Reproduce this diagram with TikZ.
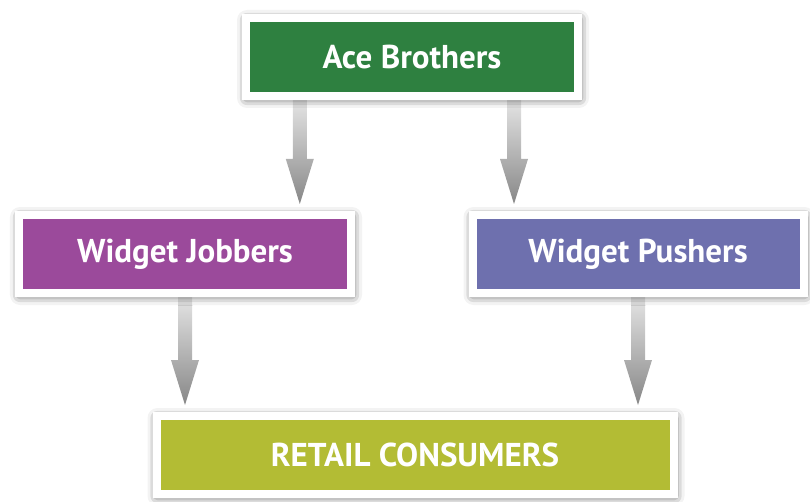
\documentclass[tikz,border=0pt]{standalone}
\usepackage{fontspec}
\setmainfont{PT Sans}
\usetikzlibrary{calc,shadows.blur}
\pgfdeclarelayer{background}
\pgfsetlayers{background,main}

\definecolor{acegreen}{RGB}{46,128,64}
\definecolor{jobberpurple}{RGB}{155,74,155}
\definecolor{pusherblue}{RGB}{110,112,174}
\definecolor{retailolive}{RGB}{179,188,52}
\definecolor{arrowtop}{RGB}{228,228,228}
\definecolor{arrowbottom}{RGB}{135,135,135}

% fat grey arrow from one anchor straight down to just above another
\newcommand{\flowarrow}[2]{%
  \path[shade, top color=arrowtop, bottom color=arrowbottom]
    let \p1=(#1), \p2=(#2) in
    (\x1-7pt,\y1) -- (\x1+7pt,\y1) -- (\x1+7pt,\y2+52pt) -- (\x1+14pt,\y2+52pt)
    -- (\x1,\y2+7pt) -- (\x1-14pt,\y2+52pt) -- (\x1-7pt,\y2+52pt) -- cycle;}

\begin{document}
\begin{tikzpicture}[x=1pt, y=-1pt,
  box/.style={draw=white, line width=8pt, text=white, inner sep=0pt,
    font=\fontsize{33}{38}\selectfont\bfseries, minimum height=78pt,
    blur shadow={shadow xshift=1pt, shadow yshift=-2pt,
      shadow blur radius=10pt, shadow opacity=75}}]
\useasboundingbox (0,0) rectangle (810,502);

% the four boxes
\node[box, fill=acegreen, minimum width=332pt] (ace) at (412,57) {Ace Brothers};
\node[box, fill=jobberpurple, minimum width=332pt] (jobbers) at (185,254) {Widget Jobbers};
\node[box, fill=pusherblue, minimum width=331pt] (pushers) at (638,254) {Widget Pushers};
\node[box, fill=retailolive, minimum width=517pt] (retail) at (415,455) {RETAIL CONSUMERS};

% arrows go behind the boxes
\begin{pgfonlayer}{background}
\flowarrow{$(ace.south west)!0.17!(ace.south east)$}{jobbers.north}
\flowarrow{$(ace.south west)!0.80!(ace.south east)$}{pushers.north}
\flowarrow{jobbers.south}{retail.north}
\flowarrow{pushers.south}{retail.north}
\end{pgfonlayer}
\end{tikzpicture}
\end{document}
